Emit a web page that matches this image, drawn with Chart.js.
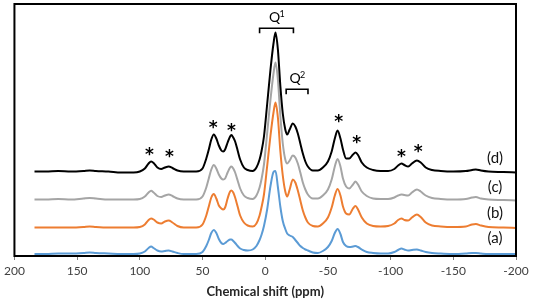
<!DOCTYPE html>
<html>
<head>
<meta charset="utf-8">
<script src="https://cdn.jsdelivr.net/npm/chart.js@4/dist/chart.umd.min.js"></script>
<style>
html,body{margin:0;padding:0;background:#fff;}
#c{display:block;}
</style>
</head>
<body>
<canvas id="c" width="536" height="306"></canvas>
<script>
// chemical shift grid (ppm)
const shifts = [
  184, 175, 165, 155, 145, 140, 135, 125, 115, 105,
  100, 96, 93, 91, 89, 86, 83, 80, 77, 74,
  70, 65, 55, 50, 47, 45, 43, 41, 39, 37,
  35, 33.5, 32, 30, 28, 27, 25.5, 24, 22, 20,
  17, 14, 10, 7, 4.5, 3, 1, -1.6, -4.2, -6.6,
  -8.2, -10.1, -12.1, -14, -16, -17.5, -19.5, -22, -24, -26,
  -28, -30, -32, -34, -38, -42, -46, -50, -53, -55.5,
  -57.7, -60, -62, -64.5, -67, -70, -72, -74, -77, -81,
  -86, -92, -98, -103, -106, -108.7, -111, -114, -117, -121,
  -124, -128, -133, -140, -150, -160, -165, -168, -172, -178,
  -190, -200
];
// intensities (arbitrary units)
const specA = [
  0, 0, 0.5, 0.5, 1, 1.5, 1, 0.5, 0, 0,
  0.5, 2.5, 6, 7.5, 6, 3.5, 2.5, 3, 3.5, 2.5,
  1, 0, 0, 2, 8, 14, 21, 24, 21, 15,
  11, 10, 11, 13, 14.5, 14.5, 13, 11, 8, 5.5,
  4, 3.5, 4.5, 8, 14, 19, 28, 45, 68, 82,
  83, 67, 47, 33, 25, 20.5, 18.5, 17, 14, 11,
  8, 6, 4.5, 3.5, 1.5, 1, 3, 7, 13, 21,
  25, 20, 12, 8, 7, 7.5, 8, 7, 4.5, 2,
  1, 0.5, 0.5, 2, 4, 5.5, 4.5, 3.5, 4, 4.5,
  3.5, 2, 1, 0.5, 0, 0.5, 1, 1, 0.5, 0,
  0, 0
];
const specB = [
  0, 0, 0, 0, 0.5, 1, 0.5, 0, 0, 0,
  0.5, 3, 7.5, 9, 8, 5, 4, 6, 7, 5,
  1.5, 0, 0, 3, 12, 21, 30, 33.5, 29, 22,
  19, 18, 20, 29, 36, 37, 35, 30, 21, 12,
  5, 2, 1, 4, 12, 20, 33, 62, 92, 115,
  125, 110, 76, 52, 36, 31, 38, 48, 45, 37,
  27, 17, 10, 5, 1.5, 1, 4, 10, 20, 32,
  38.5, 32, 21, 14, 13, 19, 21.5, 18, 10, 4,
  1.5, 1, 1.5, 4, 7.5, 9, 7.5, 7, 10, 13,
  10.5, 5, 2, 1, 0.5, 1, 3, 3.5, 2, 0.5,
  0, -0.5
];
const specC = [
  0, 0, 0.5, 0, 1, 1.5, 1, 0, 0, 0,
  0.5, 3, 7, 8.7, 7, 3.5, 2.5, 4, 5, 3.5,
  1, 0, 0, 3, 12, 21, 30, 34.5, 31, 25,
  21, 20, 21, 27, 32, 33, 31, 27, 19, 11,
  4, 1.5, 0.5, 4, 12, 20, 35, 67, 100, 126,
  137, 120, 83, 56, 40, 36, 39, 44, 42, 36,
  27, 17, 10, 5, 1, 1, 4, 10, 20, 33,
  40.5, 33, 21, 13, 11, 15, 18, 15, 8, 3.5,
  1, 0.5, 0.5, 2, 4, 5, 4.5, 4, 7, 10,
  8, 4, 1.5, 0.5, 0, 0.5, 2, 2.5, 1, 0,
  -0.5, -1
];
const specD = [
  0, 0, 0.5, 0, 0.5, 1, 0.5, 0, -1, -1,
  0, 3, 8, 10, 8.5, 4, 2.5, 4, 5, 3.5,
  1, 0, 0, 3, 13, 22, 32, 37, 33, 26,
  21, 20, 22, 29, 35, 36.5, 34, 30, 21, 12,
  4, 1.5, 0.5, 4, 12, 20, 35, 68, 102, 128,
  139, 122, 85, 58, 42, 37, 42, 48, 45, 38,
  28, 18, 10, 5, 1, 1, 4, 10, 20, 33,
  41, 33, 22, 13, 13, 17, 19, 16.5, 9, 4,
  1.5, 0.5, 0.5, 2.5, 6, 8, 6.5, 5, 8, 11,
  9, 4, 1.5, 0.5, 0, 0.5, 1.5, 2, 1, 0,
  -0.5, -1
];
const seriesNames = ['(a)', '(b)', '(c)', '(d)'];
const offsets = [2, 28.5, 56.5, 84.5];
const colors = ['#5b9bd5', '#ed7d31', '#a5a5a5', '#000000'];
const xTicks = [200, 150, 100, 50, 0, -50, -100, -150, -200];
const starShifts = [92.3, 76.4, 41.5, 27, -58.5, -73, -108.7, -122];
const starLevels = [103.3, 101, 130, 127.7, 136.7, 115.3, 101, 106];
const labelShift = -183.3;
const labelLevels = [17.7, 42.7, 69.3, 97.7];
const qLabels = ['1', '2'];
const qFrom = [4.5, -16.7];
const qTo = [-22.5, -34.1];
const qLevels = [227.7, 166.7];

const specs = [specA, specB, specC, specD];
const datasets = specs.map((s, i) => ({
  label: seriesNames[i],
  data: shifts.map((x, k) => ({x: x, y: s[k] + offsets[i]})),
  borderColor: colors[i],
  borderWidth: 2,
  pointRadius: 0,
  fill: false,
  cubicInterpolationMode: 'monotone'
})).reverse();

const decor = {
  id: 'decor',
  afterDraw(chart) {
    const ctx = chart.ctx, a = chart.chartArea, xs = chart.scales.x, ys = chart.scales.y;
    ctx.save();
    // plot frame
    ctx.strokeStyle = '#000';
    ctx.lineWidth = 2;
    ctx.strokeRect(a.left, a.top, a.right - a.left, a.bottom - a.top);
    // asterisks
    ctx.fillStyle = '#000';
    ctx.font = 'bold 17px "DejaVu Sans"';
    ctx.textAlign = 'center';
    ctx.textBaseline = 'middle';
    starShifts.forEach((p, i) => {
      ctx.fillText('*', xs.getPixelForValue(p), ys.getPixelForValue(starLevels[i]) + 3);
    });
    // series labels
    ctx.font = '15px Lato';
    ctx.fillStyle = '#111';
    labelLevels.forEach((l, i) => {
      ctx.fillText(seriesNames[i], xs.getPixelForValue(labelShift), ys.getPixelForValue(l));
    });
    // Q brackets
    ctx.strokeStyle = '#000';
    ctx.lineWidth = 1.6;
    qLabels.forEach((q, i) => {
      const x1 = xs.getPixelForValue(qFrom[i]), x2 = xs.getPixelForValue(qTo[i]);
      const y = ys.getPixelForValue(qLevels[i]);
      ctx.beginPath();
      ctx.moveTo(x1, y + 5); ctx.lineTo(x1, y); ctx.lineTo(x2, y); ctx.lineTo(x2, y + 5);
      ctx.stroke();
      const cx = (x1 + x2) / 2;
      ctx.fillStyle = '#000';
      ctx.font = '14px Lato';
      ctx.textAlign = 'center';
      ctx.textBaseline = 'alphabetic';
      ctx.fillText('Q', cx - 2, y - 6);
      ctx.font = '9px Lato';
      ctx.textAlign = 'left';
      ctx.fillText(q, cx + 3, y - 11);
    });
    ctx.restore();
  }
};

new Chart(document.getElementById('c'), {
  type: 'line',
  data: {datasets: datasets},
  options: {
    responsive: false,
    animation: false,
    devicePixelRatio: 1,
    layout: {padding: {left: 12, right: 20, top: 4, bottom: 0}},
    plugins: {legend: {display: false}, tooltip: {enabled: false}},
    scales: {
      x: {
        type: 'linear',
        reverse: true,
        min: -200,
        max: 200,
        afterBuildTicks(s) { s.ticks = xTicks.map(v => ({value: v})); },
        afterFit(s) { s.height = 50; },
        grid: {display: true, drawOnChartArea: false, drawTicks: true, tickLength: 4, color: '#808080'},
        border: {display: true, color: '#606060', width: 1.5},
        ticks: {font: {family: 'Lato', size: 12}, color: '#404040', padding: 4, maxRotation: 0},
        title: {display: true, text: 'Chemical shift (ppm)', font: {family: 'Lato', size: 13, weight: 'bold'}, color: '#262626', padding: {top: 0, bottom: 6}}
      },
      y: {display: false, min: 0, max: 252}
    }
  },
  plugins: [decor]
});
</script>
</body>
</html>
